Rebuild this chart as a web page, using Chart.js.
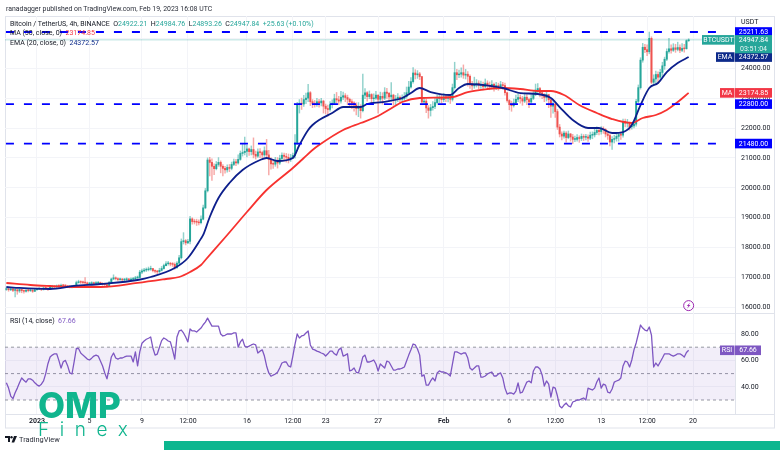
<!DOCTYPE html>
<html>
<head>
<meta charset="utf-8">
<title>BTCUSDT 4h</title>
<script src="https://cdn.jsdelivr.net/npm/chart.js@4/dist/chart.umd.min.js"></script>
<style>
html,body{margin:0;padding:0;background:#fff;width:780px;height:450px;overflow:hidden}
#wrap{position:relative;width:780px;height:450px;font-family:Roboto,sans-serif;color:#131722}
canvas{position:absolute;left:0;top:0}
.t{position:absolute;white-space:pre;font-size:7px;line-height:9px}
.g{color:#26a69a}
</style>
</head>
<body>
<div id="wrap">
<canvas id="c" width="780" height="450"></canvas>
<div class="t" style="left:6px;top:5px;color:#2a2e39;font-size:6.9px">ranadagger published on TradingView.com, Feb 19, 2023 16:08 UTC</div>
<div class="t" style="left:10px;top:20px">Bitcoin / TetherUS, 4h, BINANCE  O<span class="g">24922.21</span>  H<span class="g">24984.76</span>  L<span class="g">24893.26</span>  C<span class="g">24947.84</span>  <span class="g">+25.63 (+0.10%)</span></div>
<div class="t" style="left:10px;top:29px">MA (50, close, 0)  <span style="color:#f23645">23174.85</span></div>
<div class="t" style="left:10px;top:39px">EMA (20, close, 0)  <span style="color:#0d2a8a">24372.57</span></div>
<div class="t" style="left:10px;top:317px">RSI (14, close)  <span style="color:#7e57c2">67.66</span></div>
<svg style="position:absolute;left:5px;top:436px" width="12" height="7" viewBox="0 0 12 7"><path d="M0 0h5v6H3V2H0z" fill="#131722"/><circle cx="6.5" cy="1.2" r="1.2" fill="#131722"/><path d="M9 0h3L9.2 6.5H6.6z" fill="#131722"/></svg>
<div class="t" style="left:19px;top:435px;font-size:7.4px;color:#2a2e39">TradingView</div>
<div class="t" style="left:38px;top:385px;font:800 35px/40px Inter,Lato,sans-serif;color:#10b58e">OMP</div>
<div class="t" style="left:38px;top:419px;font:300 19px/22px Inter,Lato,sans-serif;letter-spacing:10.6px;color:#10b58e">Finex</div>
<div style="position:absolute;left:164px;top:441px;right:0;height:9px;background:#0cb68f"></div>
</div>
<script>
// ---- axis labels ----
const timeTickIdx   = [0,24,48,69,96,117,132,156,186,216,237,258,279,300];
const timeTickLabel = ['2023','5','9','12:00','16','12:00','23','27','Feb','6','12:00','13','12:00','20'];
const priceTicks = [16000,17000,18000,19000,20000,21000,22000,23000,24000,25000];
const rsiTicks = [40,60,80];
const xMin = -14.63, xMax = 319.2;
const firstCandle = -14;

// ---- candles (4h) ----
const closes = [
16620,16590,16620,16570,16590,16550,16600,16560,16540,16570,
16560,16570,16540,16590,16610,16630,16600,16650,16640,16620,
16680,16700,16690,16720,16710,16740,16730,16720,16700,16690,
16690,16700,16830,16860,16840,16830,16820,16790,16800,16820,
16800,16810,16830,16800,16780,16760,16730,16830,16950,16990,
16960,16930,16940,16920,16930,16950,16920,16940,16960,16990,
17000,17180,17220,17250,17260,17280,17300,17230,17210,17190,
17240,17300,17400,17460,17470,17450,17440,17330,17480,17660,
18200,18230,18160,18210,18960,18870,18860,18850,18830,18950,
19330,19900,20930,20850,20720,20640,20780,20850,20720,20650,
20600,20680,20650,20780,20870,20830,20950,21150,21180,21220,
21300,21210,21280,21120,21060,21200,21180,21100,21240,21100,
20950,20800,20790,20920,20830,20980,21090,21050,21020,20970,
21000,21080,21500,22780,22830,22800,22950,23000,23180,22880,
22820,22800,22880,22840,22900,22730,22650,22620,22780,22830,
22980,22940,22900,23030,23080,23020,22960,22880,22840,22770,
22650,22700,22580,23100,23180,23050,23120,22980,23000,23100,
22960,23060,23000,23200,23160,23040,23100,22950,22960,23030,
22960,22990,23050,23180,23370,23550,23840,23780,23810,23720,
22870,22900,22670,22590,22680,22720,22850,22980,23010,22950,
23040,22990,23020,22960,23350,23850,23780,23800,23850,23770,
23800,23730,23480,23410,23460,23500,23430,23450,23380,23500,
23430,23390,23460,23350,23420,23380,23450,23420,23180,22920,
22780,22750,22840,22960,23020,22980,22900,23030,22950,22870,
22990,23120,23270,23320,23180,23110,23020,23120,22950,22730,
22800,22550,22030,21800,21730,21830,21680,21800,21700,21620,
21620,21680,21650,21720,21690,21700,21660,21760,21770,21850,
21920,21880,21970,21950,21800,21750,21530,21620,21650,21720,
21780,21760,22220,22160,22170,22040,22070,22130,22890,23350,
24270,24700,24620,24550,25000,23530,23640,23790,23700,23860,
24080,24300,24560,24650,24600,24680,24630,24690,24600,24660,
24650,24922,24947.84];
const highs = [
16660,16630,16650,16620,16610,16600,16620,16600,16590,16610,
16610,16600,16600,16620,16640,16660,16640,16680,16680,16650,
16720,16740,16730,16750,16760,16780,16760,16760,16740,16730,
16730,16750,16880,16910,16890,16880,17000,16850,16840,16860,
16850,16860,16870,16850,16830,16810,16790,16870,16980,17090,
17020,16990,16980,16970,16970,16990,16970,16990,17010,17040,
17050,17240,17280,17310,17320,17350,17380,17310,17260,17240,
17310,17370,17450,17530,17540,17510,17500,17490,17530,17740,
18290,18500,18270,18280,19050,19000,18950,18950,18930,19060,
19420,19980,21000,21020,20970,20800,20880,21010,20900,20780,
20720,20770,20780,20860,20960,20950,21100,21230,21450,21700,
21420,21330,21400,21670,21230,21300,21310,21230,21370,21620,
21250,21010,20950,21020,21010,21090,21170,21160,21150,21130,
21120,21160,21780,22860,22950,23000,23090,23170,23460,23220,
22950,22920,22990,22960,22990,22930,22800,22770,22880,22940,
23130,23190,23060,23230,23200,23150,23100,23000,22950,22880,
22840,22850,22780,23800,23320,23220,23240,23150,23140,23230,
23110,23200,23180,23350,23330,23190,23520,23130,23090,23150,
23080,23110,23190,23370,23560,23690,24020,23950,23920,23860,
23720,23010,22970,22750,22790,22880,23000,23100,23130,23090,
23150,23130,23110,23090,23470,24200,23960,23940,24010,24110,
23960,23890,23780,23560,23700,23620,23580,23570,23540,23640,
23580,23540,23590,23500,23530,23500,23560,23530,23500,23200,
22950,22900,22970,23100,23180,23110,23060,23170,23120,23000,
23120,23260,23470,23490,23360,23230,23150,23250,23080,22860,
22880,22830,22620,22120,21870,21900,21880,21900,21820,21790,
21730,21780,21740,21800,21780,21790,21770,21860,21870,21960,
22040,21990,22050,22040,21980,21870,21790,21710,21760,21830,
21850,21870,22300,22300,22290,22200,22180,22230,22960,23440,
24350,24830,24800,24780,25210,25050,23780,23900,23880,23960,
24200,24370,24650,25000,24780,24820,24800,24870,24780,24820,
24800,24950,24984.76];
const lows = [
16570,16540,16560,16530,16350,16440,16500,16490,16480,16510,
16520,16530,16500,16530,16570,16590,16560,16580,16590,16570,
16620,16650,16640,16660,16660,16680,16670,16680,16660,16650,
16650,16670,16680,16810,16800,16790,16780,16750,16760,16780,
16770,16770,16780,16760,16740,16700,16680,16720,16810,16930,
16920,16890,16900,16880,16890,16900,16880,16890,16910,16930,
16950,16990,17130,17190,17200,17220,17240,17190,17150,17130,
17170,17220,17280,17390,17410,17390,17370,17280,17300,17450,
17620,18120,18090,18130,18120,18780,18790,18740,18760,18790,
18930,19300,19860,20400,20250,20440,20600,20720,20500,20400,
20490,20520,20540,20600,20740,20740,20790,20920,21060,21100,
21030,21080,21100,21000,20960,21020,21010,21000,21050,21000,
20430,20620,20650,20720,20660,20780,20920,20900,20860,20830,
20880,20980,20990,21450,22500,22620,22720,22810,22880,22750,
22680,22700,22720,22700,22740,22500,22470,22400,22560,22670,
22780,22830,22780,22830,22950,22880,22780,22700,22650,22560,
22440,22380,22330,22540,22980,22900,22980,22830,22870,22960,
22500,22880,22800,22950,22990,22880,22900,22760,22780,22880,
22850,22880,22930,23000,23130,23330,23500,23640,23660,23620,
22790,22780,22510,22330,22400,22600,22650,22800,22850,22840,
22880,22880,22870,22820,22900,23300,23620,23680,23700,23660,
23640,23400,23320,23280,23330,23370,23310,23320,23270,23350,
23320,23280,23300,23230,23280,23260,23330,23290,23100,22860,
22610,22560,22700,22800,22880,22830,22760,22850,22780,22680,
22820,22950,23080,23180,23040,22980,22880,22900,22680,22350,
22500,22350,21950,21700,21600,21660,21530,21640,21560,21480,
21540,21560,21520,21580,21580,21600,21550,21610,21640,21700,
21780,21770,21790,21820,21700,21620,21400,21280,21500,21560,
21560,21620,21690,22040,22030,21930,21960,22000,22060,22840,
23300,24200,24520,24420,24480,23480,23420,23470,23490,23580,
23720,23960,24250,24500,24500,24560,24530,24580,24520,24550,
24540,24640,24893.26];

// ---- EMA 20 (navy) ----
const emaIdx = [-14,-8,6,17,29,46,52,63,69,75,76,79,83,88,94,102,105,110,117,120,124,126,129,135,140,148,151,158,167,171,175,180,189,193,197,208,213,221,229,235,239,245,252,257,263,268,272,276,280,284,288,293,298];
const emaVal = [16683,16650,16616,16717,16783,16917,17017,17318,17653,18300,18422,19024,19659,20161,20596,20930,20997,20896,20997,21431,21933,22100,22268,22502,22702,22702,22803,22869,23003,23170,23338,23204,23104,23338,23471,23404,23338,23170,23137,23003,22702,22268,22000,22000,21833,21866,22100,22769,23338,23505,23873,24174,24372.57];
// ---- MA 50 (red) ----
const maIdx = [-14,-3,6,17,29,46,59,65,70,75,77,87,96,105,117,122,126,129,140,148,155,163,167,175,190,197,206,213,221,229,235,241,248,256,263,272,277,283,288,293,298];
const maVal = [16817,16750,16716,16683,16683,16817,16950,17017,17185,17419,17586,18422,19191,19927,20662,20997,21264,21431,21933,22167,22368,22702,22869,23003,23037,23204,23304,23338,23304,23237,23237,23103,22769,22502,22300,22167,22334,22435,22602,22869,23174.85];
// ---- RSI 14 ----
const rsiVal = [
43,39,33,31,35.5,39,43,46.7,45,43.5,
46,46,45,43,41.5,40.5,42,44.5,50,57.5,
62.6,64,65,65,60,54.2,59,60,56,50.5,
49.7,59,69,69,65.6,64,62.6,61,60.3,61.7,
63.3,64,63.3,59.5,55.8,50.5,46,54,62.6,65.6,
61.8,61,61.8,61.8,62.6,63.3,63.3,63.3,58.8,66.4,
55.8,66.4,73,74.7,76,76.8,77.7,69.4,64,64.8,
70,75,77,76,74.7,74,68,61,77.7,82.3,
83,80.8,77.7,74,83.8,82.3,82.3,81.5,83,84.5,
87,89,92,89,86,86,86,86,80,78.5,
79,80,80,80,80.8,80.8,70,74,76,70.8,
70,70.8,71.7,72.4,71.7,65.6,67,68,63.3,55.8,
50.5,48,48.9,49.7,51,54.2,58,58.8,58.8,55.8,
55,63.3,72.4,80,77,78.5,79,80.8,82.3,71.7,
68.6,68,67,66.4,65.6,65,63.3,65,67,67,
65,64,68,69.4,63.3,64,65,52,52.7,54.2,
51,50.5,55.8,62.6,64,58.8,58.8,59.5,60.3,57.3,
52,57.3,55.8,54.2,59.5,58.8,55.8,52.7,52.7,53.5,
53.5,54.2,55,59.5,64,68,72.4,71.7,68.6,64,
48,49,41.3,41.3,44.4,46.7,44.4,50.5,52,51.2,
51.2,50.5,49.7,48.2,57.3,66.4,66.4,65.6,64.8,65.6,
65.6,61.8,54.2,52.7,54.2,55.8,55.8,47.4,47.4,48.2,
49.7,50.5,51.2,48.2,48.2,49.7,50.5,46.7,39,34.5,
35.3,35.3,34.5,36.8,43,35.3,36,39.8,43.6,44.4,
43,52,55,55,53.5,49,40.6,44.4,42,32.2,
39.8,39,33,25.5,24,26.2,27.7,25.5,24.7,28.5,
29.2,30,30,30.8,31.5,30,39,38.3,37.6,39,
43.6,46.7,39,42,41.3,36,35.3,38.3,43.6,44.4,
45,46.7,55.8,59.5,58.8,55,60.3,68,73.2,80,
86.8,84.5,83,82.3,85.3,79.2,55,58,55.8,58.8,
61.8,65,65,65,64,63.3,64,65,65,64,
62.5,66,67.66];
const rsiBands = [70,50,30];

// ---- horizontal levels drawn by the author ----
const levels = [25211.63,22800,21480];
const levelSpan = [-14.2,315];
const alertPrice = 16060;
const alertIdx = 298;

const upColor='#26a69a', downColor='#ef5350';
const upWick='rgba(38,166,154,.5)', downWick='rgba(239,83,80,.5)';
const opens = closes.map((c,k)=> k===0 ? 16600 : closes[k-1]);
const candleX = closes.map((_,k)=> firstCandle+k);
const candleColor = closes.map((c,k)=> c>=opens[k] ? upColor : downColor);
const wickColor = closes.map((c,k)=> c>=opens[k] ? upWick : downWick);
const zip=(xs,ys)=>xs.map((x,k)=>({x,y:ys[k]}));
const last=a=>a[a.length-1];
const span=v=>[{x:xMin,y:v},{x:xMax,y:v}];
const FONT='Roboto, sans-serif';

const panel={id:'panel',
  beforeDraw(ch){
    const c=ch.ctx,a=ch.chartArea,s=ch.scales.y2;
    c.save();c.strokeStyle='#e0e3eb';c.lineWidth=1;
    c.strokeRect(a.left+.5,a.top+.5,770-1,ch.scales.x.bottom-a.top-.5);
    c.beginPath();c.moveTo(a.left,s.top+.5);c.lineTo(775,s.top+.5);
    c.moveTo(a.left,a.bottom+.5);c.lineTo(775,a.bottom+.5);c.stroke();
    c.restore();
  },
  afterDraw(ch){
    const c=ch.ctx,a=ch.chartArea,y=ch.scales.y,y2=ch.scales.y2,x=ch.scales.x;
    const R=a.right,w=37,h=9.6;
    c.save();c.textBaseline='middle';
    const box=(x0,yy,bw,bh,col)=>{c.fillStyle=col;c.fillRect(x0,yy,bw,bh);};
    const txt=(s,xx,yy,col,al)=>{c.fillStyle=col;c.textAlign=al||'left';c.fillText(s,xx,yy);};
    c.font='7px '+FONT;
    // author levels
    levels.forEach(v=>{
      const p=y.getPixelForValue(v);
      box(R,p-h/2,w,h,'#0000ff');
      txt(v.toFixed(2),R+18.5,p+.3,'#fff','center');
    });
    // MA tag
    const mp=y.getPixelForValue(last(maVal));
    box(R-15,mp-h/2,14.5,h,'#f23645');box(R,mp-h/2,w,h,'#f23645');
    txt('MA',R-8,mp+.3,'#fff','center');txt(last(maVal).toFixed(2),R+18.5,mp+.3,'#fff','center');
    // EMA tag
    const ep=y.getPixelForValue(last(emaVal));
    box(R-19,ep-h/2,18.5,h,'#0d2a8a');box(R,ep-h/2,w,h,'#0d2a8a');
    txt('EMA',R-10,ep+.3,'#fff','center');txt(last(emaVal).toFixed(2),R+18.5,ep+.3,'#fff','center');
    // price tag
    const pp=y.getPixelForValue(last(closes));
    box(R-33,pp-h/2,32.5,h,upColor);box(R,pp-h/2,w,h*1.9,upColor);
    txt('BTCUSDT',R-16.5,pp+.3,'#fff','center');
    txt(last(closes).toFixed(2),R+18.5,pp+.3,'#fff','center');
    txt('03:51:04',R+18.5,pp+9,'#e8f6f4','center');
    // USDT unit
    box(R+1,17,38,9,'#fff');
    txt('USDT',R+6,22.5,'#131722');
    // RSI tag
    const rp=y2.getPixelForValue(last(rsiVal));
    box(R-15,rp-h/2,14.5,h,'#7e57c2');box(R,rp-h/2,26,h,'#7e57c2');
    txt('RSI',R-8,rp+.3,'#fff','center');txt(last(rsiVal).toFixed(2),R+13,rp+.3,'#fff','center');
    // alert badge
    const bx=x.getPixelForValue(alertIdx),by=y.getPixelForValue(alertPrice);
    c.strokeStyle='#9c27b0';c.lineWidth=1;c.beginPath();c.arc(bx,by,5,0,Math.PI*2);c.stroke();
    c.fillStyle='#9c27b0';c.beginPath();
    c.moveTo(bx+1.6,by-3.2);c.lineTo(bx-1.8,by+.5);c.lineTo(bx-.2,by+.5);c.lineTo(bx-1.6,by+3.2);c.lineTo(bx+1.8,by-.5);c.lineTo(bx+.2,by-.5);c.closePath();c.fill();
    c.restore();
  }
};

const lineBase={type:'line',pointRadius:0,borderJoinStyle:'round'};
const datasets=[
  ...levels.map(v=>({...lineBase,yAxisID:'y',order:0,data:levelSpan.map(x=>({x,y:v})),borderColor:'#0000ff',borderWidth:1.8,borderDash:[8,10]})),
  {...lineBase,yAxisID:'y',order:1,data:zip(emaIdx,emaVal),borderColor:'#0d1f8c',borderWidth:1.8,cubicInterpolationMode:'monotone'},
  {...lineBase,yAxisID:'y',order:1,data:zip(maIdx,maVal),borderColor:'#f7322f',borderWidth:1.8,cubicInterpolationMode:'monotone'},
  {type:'bar',yAxisID:'y',order:3,grouped:false,barThickness:1.3,minBarLength:.8,data:candleX.map((x,k)=>({x,y:[opens[k],closes[k]]})),backgroundColor:candleColor,borderWidth:0},
  {type:'bar',yAxisID:'y',order:4,grouped:false,barThickness:.8,data:candleX.map((x,k)=>({x,y:[lows[k],highs[k]]})),backgroundColor:wickColor,borderWidth:0},
  {...lineBase,yAxisID:'y',order:5,data:span(last(closes)),borderColor:'rgba(38,166,154,.35)',borderWidth:1},
  {...lineBase,yAxisID:'y2',order:1,data:zip(candleX,rsiVal),borderColor:'#7e57c2',borderWidth:1.3},
  {...lineBase,yAxisID:'y2',order:2,data:span(rsiBands[0]),borderColor:'#9598a1',borderWidth:1,borderDash:[3,3],fill:{value:rsiBands[2]},backgroundColor:'rgba(126,87,194,.10)'},
  {...lineBase,yAxisID:'y2',order:2,data:span(rsiBands[1]),borderColor:'#9598a1',borderWidth:1,borderDash:[3,3]},
  {...lineBase,yAxisID:'y2',order:2,data:span(rsiBands[2]),borderColor:'#9598a1',borderWidth:1,borderDash:[3,3]}
];
const gridCol='#f3f4f8';
const tickFont={family:FONT,size:7};
new Chart(document.getElementById('c'),{
  type:'bar',
  data:{datasets},
  plugins:[panel],
  options:{
    responsive:false,animation:false,devicePixelRatio:1,
    layout:{padding:{left:5,top:16,right:5,bottom:22}},
    plugins:{legend:{display:false},tooltip:{enabled:false},title:{display:false}},
    scales:{
      x:{type:'linear',min:xMin,max:xMax,offset:false,
        grid:{offset:false,color:gridCol,drawTicks:false},
        border:{display:false},
        afterBuildTicks:s=>{s.ticks=timeTickIdx.map(v=>({value:v}));},
        afterFit:s=>{s.height=14;},
        ticks:{autoSkip:false,maxRotation:0,padding:3,color:'#131722',
          font:ctx=>{const k=ctx.index;return {family:FONT,size:7,weight:(timeTickLabel[k]==='2023'||timeTickLabel[k]==='Feb')?'600':'400'};},
          callback:(v,k)=>timeTickLabel[k]}
      },
      y:{type:'linear',position:'right',stack:'p',stackWeight:297,min:15813,max:25746,
        grid:{color:gridCol,drawTicks:false},border:{color:'#e0e3eb'},
        afterBuildTicks:s=>{s.ticks=priceTicks.map(v=>({value:v}));},
        afterFit:s=>{s.width=40;},
        ticks:{padding:6,color:'#131722',font:tickFont,autoSkip:false,callback:v=>Number(v).toFixed(2)}
      },
      y2:{type:'linear',position:'right',stack:'p',stackWeight:101,min:19.4,max:95.9,
        grid:{color:gridCol,drawTicks:false},border:{color:'#e0e3eb'},
        afterBuildTicks:s=>{s.ticks=rsiTicks.map(v=>({value:v}));},
        afterFit:s=>{s.width=40;},
        ticks:{padding:6,color:'#131722',font:tickFont,autoSkip:false,callback:v=>Number(v).toFixed(2)}
      }
    }
  }
});
</script>
</body>
</html>
